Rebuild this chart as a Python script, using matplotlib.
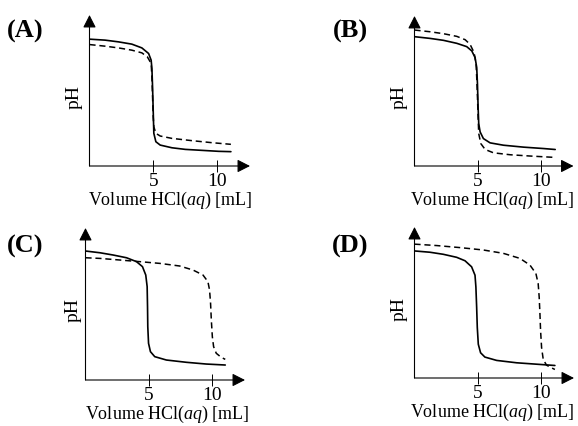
import matplotlib
matplotlib.use("Agg")
import matplotlib.pyplot as plt

plt.rcParams['font.family'] = ['Liberation Serif', 'DejaVu Serif']
plt.rcParams['mathtext.fontset'] = 'custom'
plt.rcParams['mathtext.rm'] = 'Liberation Serif'
plt.rcParams['mathtext.it'] = 'Liberation Serif:italic'

# ---- data (volume in mL, pH) ----
a_solid_x = [0, 1.22, 2.27, 3.32, 4.11, 4.64, 4.84, 4.90, 4.95, 5.00, 5.05, 5.21, 5.55, 6.47, 7.52, 8.83, 10.14, 11.1]
a_solid_y = [11.76, 11.67, 11.51, 11.30, 10.95, 10.43, 9.81, 9.04, 7.34, 5.19, 3.03, 2.25, 1.94, 1.69, 1.54, 1.45, 1.36, 1.33]
a_dash_x = [0, 1.22, 2.27, 3.32, 4.11, 4.54, 4.84, 4.90, 4.95, 5.00, 5.05, 5.21, 5.55, 6.47, 8.04, 9.62, 11.1]
a_dash_y = [11.26, 11.11, 10.95, 10.74, 10.49, 10.12, 9.51, 8.27, 6.42, 4.57, 3.64, 3.03, 2.78, 2.56, 2.35, 2.16, 2.01]

b_solid_x = [0, 1.23, 2.29, 3.35, 4.14, 4.54, 4.80, 4.93, 4.99, 5.04, 5.09, 5.20, 5.46, 5.99, 7.05, 8.64, 10.22, 11.15]
b_solid_y = [12.07, 11.91, 11.73, 11.45, 11.14, 10.74, 10.12, 9.20, 7.65, 5.49, 3.95, 3.18, 2.56, 2.16, 1.94, 1.76, 1.63, 1.54]
b_dash_x = [0, 1.23, 2.29, 3.35, 4.01, 4.40, 4.72, 4.88, 4.93, 4.99, 5.04, 5.09, 5.25, 5.60, 6.26, 7.58, 9.17, 11.15]
b_dash_y = [12.69, 12.53, 12.35, 12.10, 11.79, 11.36, 10.59, 9.51, 8.27, 6.42, 4.57, 3.03, 2.10, 1.54, 1.23, 1.05, 0.93, 0.80]

c_solid_x = [0, 1.14, 2.19, 3.24, 4.03, 4.50, 4.76, 4.87, 4.90, 4.92, 4.98, 5.13, 5.47, 6.39, 7.97, 9.54, 11.04]
c_solid_y = [11.88, 11.72, 11.51, 11.26, 10.90, 10.44, 9.67, 8.60, 6.75, 4.91, 3.38, 2.61, 2.15, 1.84, 1.63, 1.47, 1.38]
c_dash_x = [0, 1.14, 2.72, 4.29, 5.87, 7.44, 8.49, 9.28, 9.67, 9.80, 9.88, 9.94, 10.02, 10.12, 10.33, 10.72, 11.04]
c_dash_y = [11.26, 11.20, 11.05, 10.90, 10.74, 10.50, 10.13, 9.67, 9.06, 8.29, 7.06, 5.52, 3.99, 3.07, 2.46, 2.09, 1.90]

d_solid_x = [0, 1.22, 2.27, 3.33, 3.99, 4.51, 4.78, 4.85, 4.91, 4.96, 5.04, 5.22, 5.56, 6.49, 8.07, 9.64, 11.09]
d_solid_y = [11.78, 11.66, 11.47, 11.19, 10.87, 10.31, 9.53, 8.44, 6.56, 4.69, 3.13, 2.34, 1.94, 1.63, 1.41, 1.28, 1.16]
d_dash_x = [0, 1.75, 3.59, 5.43, 7.01, 8.33, 9.12, 9.59, 9.77, 9.85, 9.91, 9.96, 10.04, 10.17, 10.43, 10.83, 11.09]
d_dash_y = [12.41, 12.28, 12.09, 11.87, 11.56, 11.09, 10.47, 9.69, 8.75, 7.50, 5.94, 4.38, 2.81, 1.72, 1.19, 0.94, 0.79]

panel_labels = ['(A)', '(B)', '(C)', '(D)']
x_ticks = [5, 10]
x_label = r'Volume HCl($\mathit{aq}$) [mL]'
y_label = 'pH'

W, H = 578, 426
fig = plt.figure(figsize=(W / 100, H / 100), dpi=100)

# axes boxes in pixels: (left, right, bottom(x-axis), top(arrow tip))
boxes = [(89.5, 250, 166, 15), (414.5, 573.5, 166, 16),
         (85.5, 245, 380, 228), (414.5, 574, 378, 227)]
letter_pos = [(25, 31), (350, 31), (25, 246), (350, 246)]
xlabel_cx = [170, 492, 167, 492]     # pixel centre of x label
ylabel_gap = [6.5, 6.5, 3.5, 6.5]    # pixel gap between pH and y axis
series = [(a_solid_x, a_solid_y, a_dash_x, a_dash_y),
          (b_solid_x, b_solid_y, b_dash_x, b_dash_y),
          (c_solid_x, c_solid_y, c_dash_x, c_dash_y),
          (d_solid_x, d_solid_y, d_dash_x, d_dash_y)]

for i, ((l, r, b, t), (sx, sy, dx, dy), lab, (lx, ly)) in enumerate(
        zip(boxes, series, panel_labels, letter_pos)):
    ax = fig.add_axes([l / W, 1 - b / H, (r - l) / W, (b - t) / H])
    ax.set_xlim(0, 12.6)
    ax.set_ylim(0, 14)
    ax.plot(sx, sy, color='black', lw=1.2, solid_capstyle='round', solid_joinstyle='round')
    ax.plot(dx, dy, color='black', lw=1.1, dashes=(4, 2.5))
    for s in ax.spines.values():
        s.set_visible(False)
    for xy in [(1, 0), (0, 1)]:
        ax.annotate('', xy=xy, xytext=(0, 0), xycoords='axes fraction',
                    arrowprops=dict(arrowstyle='-|>,head_length=0.55,head_width=0.28',
                                    color='black', lw=0.8, shrinkA=0, shrinkB=0,
                                    mutation_scale=14))
    ax.set_xticks(x_ticks)
    ax.set_xticklabels([str(v) for v in x_ticks], fontsize=14)
    ax.tick_params(axis='x', direction='inout', length=8, width=0.7, pad=1)
    ax.set_yticks([])
    ax.set_xlabel(x_label, fontsize=13)
    ax.xaxis.set_label_coords((xlabel_cx[i] - l) / (r - l), -0.16)
    ax.set_ylabel(y_label, fontsize=14)
    ax.yaxis.set_label_coords(-ylabel_gap[i] / (r - l), 0.46)
    fig.text(lx / W, 1 - ly / H, lab, fontsize=19, fontweight='bold',
             ha='center', va='center')

fig.savefig('out.png', dpi=100)
